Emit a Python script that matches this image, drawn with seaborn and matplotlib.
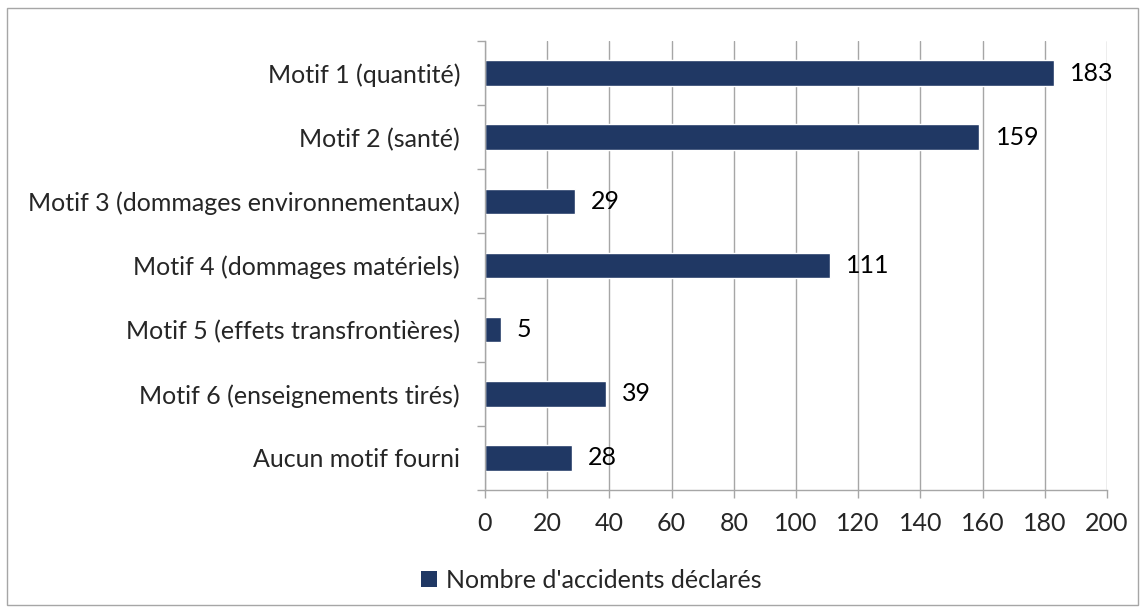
import matplotlib
matplotlib.use("Agg")
import matplotlib.pyplot as plt
import seaborn as sns
import pandas as pd
import numpy as np
from matplotlib.patches import Rectangle
from matplotlib.lines import Line2D

categories = ["Motif 1 (quantité)", "Motif 2 (santé)", "Motif 3 (dommages environnementaux)",
              "Motif 4 (dommages matériels)", "Motif 5 (effets transfrontières)",
              "Motif 6 (enseignements tirés)", "Aucun motif fourni"]
values = [183, 159, 29, 111, 5, 39, 28]
series_name = "Nombre d'accidents déclarés"
xticks = [0, 20, 40, 60, 80, 100, 120, 140, 160, 180, 200]

sns.set_style("white")
plt.rcParams['font.family'] = ['Lato', 'DejaVu Sans']
FS = 18

df = pd.DataFrame({"cat": categories, "val": values, "series": series_name})

fig = plt.figure(figsize=(11.46, 6.12), dpi=100)
ax = fig.add_axes([485/1146, 1 - 490/612, (1107 - 485)/1146, (490 - 41)/612])
color = "#203864"
sns.barplot(data=df, y="cat", x="val", hue="series", palette=[color], orient="h",
            width=0.4, ax=ax, legend=False, saturation=1)

ax.set_xlim(0, 200)
ax.set_ylim(6.5, -0.5)
ax.set_xticks(xticks)
ax.set_xlabel("")
ax.set_ylabel("")
grid_c = "#A6A6A6"
ax.grid(axis="x", color=grid_c, lw=1)
ax.set_axisbelow(True)
for s in ["top", "right"]:
    ax.spines[s].set_visible(False)
for s in ["left", "bottom"]:
    ax.spines[s].set_color(grid_c)
    ax.spines[s].set_linewidth(1)
ax.tick_params(axis="x", which="major", length=6, color=grid_c, width=1, labelsize=FS, pad=10, direction="out", bottom=True)
ax.tick_params(axis="y", which="major", length=0, labelsize=FS, pad=18)
ax.set_yticks(np.arange(-0.5, 7, 1), minor=True)
ax.tick_params(axis="y", which="minor", length=6, color=grid_c, width=1, left=True, direction="out")

for i, v in enumerate(values):
    ax.text(v + 200 * 16 / 622, i, str(v), va="center", ha="left", fontsize=FS, color="black")

h = [Line2D([0], [0], marker="s", color="w", markerfacecolor=color, markeredgewidth=0,
            markersize=11.5, lw=0)]
fig.legend(h, [series_name], loc="center", bbox_to_anchor=(589/1146, 1 - 580/612),
           frameon=False, fontsize=FS, handletextpad=0.15, handlelength=1)

fig.patches.append(Rectangle((7/1146, 7/612), 1131/1146, 597/612, transform=fig.transFigure,
                             fill=False, edgecolor="#A6A6A6", lw=1))

fig.savefig("out.png", dpi=100)
